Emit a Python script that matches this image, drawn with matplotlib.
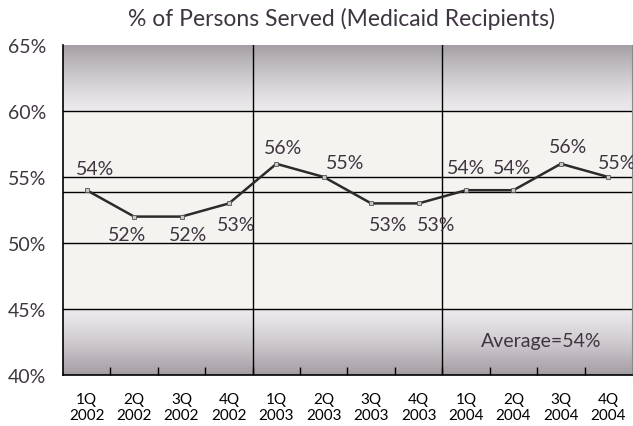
import numpy as np
import matplotlib
matplotlib.use("Agg")
import matplotlib.pyplot as plt

quarters = ["1Q", "2Q", "3Q", "4Q"] * 3
years = ["2002"] * 4 + ["2003"] * 4 + ["2004"] * 4
values = [54, 52, 52, 53, 56, 55, 53, 53, 54, 54, 56, 55]
value_labels = ["54%", "52%", "52%", "53%", "56%", "55%", "53%", "53%", "54%", "54%", "56%", "55%"]
average = 53.9
average_label = "Average=54%"
y_ticks = [40, 45, 50, 55, 60, 65]
y_tick_labels = ["40%", "45%", "50%", "55%", "60%", "65%"]
title = "% of Persons Served (Medicaid Recipients)"

# label offsets in pixels (layout only)
label_offsets = [(8, 22), (-7, -18), (7, -18), (7, -21), (7, 16), (21, 14),
                 (17, -21), (17, -21), (0, 23), (-1, 23), (7, 17), (9, 14)]

TXT = "#3f3541"
plt.rcParams['font.family'] = ['Lato', 'DejaVu Sans']

fig = plt.figure(figsize=(6.33, 4.27), dpi=100)
ax = fig.add_axes([63/633, 1-376/427, 569/633, 330/427])

# gradient background
n = 600
ys = np.linspace(40, 65, n)
mid = np.array([0.957, 0.953, 0.945])
edge_light = np.array([0.925, 0.918, 0.925])
top_dark = np.array([0.645, 0.625, 0.645])
bot_dark = np.array([0.64, 0.61, 0.64])
def shade(y):
    if y >= 60:
        t = ((y - 60) / 5) ** 1.3
        return edge_light + t * (top_dark - edge_light)
    if y <= 45:
        t = ((45 - y) / 5) ** 1.3
        return edge_light + t * (bot_dark - edge_light)
    return mid
rgb = np.clip(np.array([shade(y) for y in ys]), 0, 1)
img = rgb[:, None, :]
ax.imshow(img, extent=[-0.5, 11.5, 40, 65], origin="lower", aspect="auto", zorder=0)

x = np.arange(len(values))
ax.set_xlim(-0.5, 11.5)
ax.set_ylim(40, 65)

for yv in [45, 50, 55, 60]:
    ax.axhline(yv, color="black", lw=1.0, zorder=1)
ax.axhline(average, color="black", lw=1.0, zorder=1)
for xv in [3.5, 7.5]:
    ax.axvline(xv, color="black", lw=1.0, zorder=1)

ax.plot(x, values, color="#2b2b2b", lw=1.8, zorder=3,
        marker="s", markersize=3.2, markerfacecolor="#c8c8c8",
        markeredgecolor="#555555", markeredgewidth=0.6)

for i, (v, lab) in enumerate(zip(values, value_labels)):
    dx, dy = label_offsets[i]
    ax.annotate(lab, (x[i], v), xytext=(dx * 0.72, dy * 0.72), textcoords="offset points",
                ha="center", va="center", fontsize=14, color=TXT, zorder=4,
                annotation_clip=False)

ax.text(0.947, 0.105, average_label, transform=ax.transAxes, ha="right", va="center",
        fontsize=14, color=TXT)

ax.set_yticks(y_ticks)
ax.set_yticklabels(y_tick_labels, fontsize=14, color=TXT)
ax.tick_params(axis="y", length=0, pad=12)

ax.set_xticks(x)
ax.set_xticklabels([f"{q}\n{y}" for q, y in zip(quarters, years)], fontsize=11,
                   color="black", linespacing=1.25)
ax.tick_params(axis="x", which="major", length=0, pad=12)
ax.set_xticks(np.arange(0.5, 11, 1), minor=True)
ax.tick_params(axis="x", which="minor", direction="in", length=6, width=1, color="black")

ax.spines["top"].set_visible(False)
ax.spines["right"].set_color("#888888")
ax.spines["left"].set_linewidth(1.2)
ax.spines["bottom"].set_linewidth(1.2)

fig.text(342/633, 1-19/427, title, ha="center", va="center", fontsize=16.5, color=TXT)

fig.savefig("out.png", dpi=100)
